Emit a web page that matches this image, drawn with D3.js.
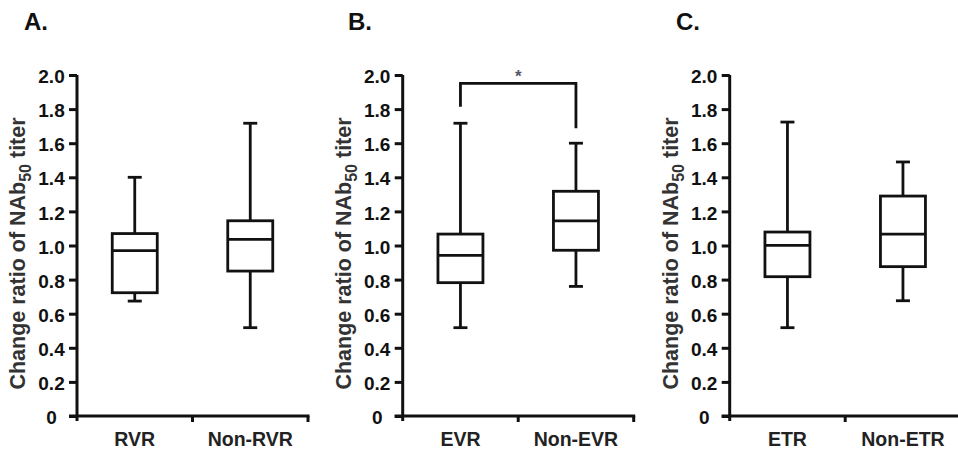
<!DOCTYPE html>
<html>
<head>
<meta charset="utf-8">
<script src="https://cdn.jsdelivr.net/npm/d3@7"></script>
<style>
  html, body { margin: 0; padding: 0; background: #fff; }
  svg { display: block; font-family: "Liberation Sans", Arial, sans-serif; }
</style>
</head>
<body>
<svg id="chart" width="958" height="452"></svg>
<script>
// ---- data ----
const panelLabels = ["A.", "B.", "C."];
const categoriesA = ["RVR", "Non-RVR"];
const categoriesB = ["EVR", "Non-EVR"];
const categoriesC = ["ETR", "Non-ETR"];
// [min, q1, median, q3, max]
const statsA = [[0.674, 0.723, 0.970, 1.070, 1.400], [0.518, 0.850, 1.036, 1.145, 1.717]];
const statsB = [[0.518, 0.782, 0.942, 1.067, 1.717], [0.760, 0.972, 1.145, 1.318, 1.600]];
const statsC = [[0.518, 0.817, 1.001, 1.079, 1.724], [0.676, 0.876, 1.067, 1.290, 1.490]];
const yTicks = [0, 0.2, 0.4, 0.6, 0.8, 1.0, 1.2, 1.4, 1.6, 1.8, 2.0];
const yLabel = "Change ratio of NAb";
const yLabelSub = "50";
const yLabelEnd = " titer";
// significance bracket in panel B: [top, left leg end, right leg end], label
const bracketB = [1.951, 1.814, 1.687];
const bracketLabel = "*";

// ---- layout ----
const svg = d3.select("#chart");
const axisXs = [77, 402.7, 729.7];
const bandW = 115.5;
const yTop = 75, yBottom = 416;
const y = d3.scaleLinear().domain([0, 2]).range([yBottom, yTop]);
const ink = "#111";
const lw = 2.8;

const panels = [
  { cats: categoriesA, stats: statsA },
  { cats: categoriesB, stats: statsB, bracket: bracketB },
  { cats: categoriesC, stats: statsC }
];

panels.forEach((p, i) => {
  const ax = axisXs[i];
  const g = svg.append("g");
  const x = d3.scaleBand().domain(p.cats).range([ax, ax + 2 * bandW]).padding(0);

  // panel label
  g.append("text").attr("x", [24, 348, 676][i]).attr("y", 30)
    .attr("font-size", 24).attr("font-weight", "bold").attr("fill", ink)
    .text(panelLabels[i]);

  // y axis
  const yAxis = d3.axisLeft(y).tickValues(yTicks).tickSize(8).tickPadding(0)
    .tickFormat(d => d === 0 ? "0" : d3.format(".1f")(d));
  const ga = g.append("g").attr("transform", `translate(${ax},0)`).call(yAxis);
  ga.select(".domain").attr("stroke", ink).attr("stroke-width", 3)
    .attr("d", `M0,${yTop}V${yBottom + 5}`);
  ga.selectAll(".tick line").attr("stroke", ink).attr("stroke-width", 3);
  ga.selectAll(".tick text").attr("x", -25.5).attr("text-anchor", "middle")
    .attr("dy", "0.4em").attr("font-size", 19).attr("font-weight", "bold").attr("fill", ink);

  // x axis
  g.append("line").attr("x1", ax - 8).attr("x2", ax + 2 * bandW + 1.5)
    .attr("y1", yBottom).attr("y2", yBottom)
    .attr("stroke", ink).attr("stroke-width", 3);
  [ax + bandW, ax + 2 * bandW].forEach(tx => {
    g.append("line").attr("x1", tx).attr("x2", tx).attr("y1", yBottom).attr("y2", yBottom + 6)
      .attr("stroke", ink).attr("stroke-width", 3);
  });
  g.selectAll(".xlab").data(p.cats).enter().append("text")
    .attr("x", d => x(d) + x.bandwidth() / 2).attr("y", 446)
    .attr("text-anchor", "middle").attr("font-size", 19.5).attr("font-weight", "bold").attr("fill", "#222")
    .text(d => d);

  // y label
  const yl = g.append("text")
    .attr("transform", `translate(${ax - 52},${(yTop + yBottom) / 2 + 8}) rotate(-90)`)
    .attr("text-anchor", "middle").attr("font-size", 21.5).attr("font-weight", "bold").attr("fill", "#333");
  yl.append("tspan").text(yLabel);
  yl.append("tspan").attr("font-size", 16).attr("dy", 6).text(yLabelSub);
  yl.append("tspan").attr("dy", -6).text(yLabelEnd);

  // boxes
  const boxW = 45, capW = 14;
  p.cats.forEach((c, j) => {
    const s = p.stats[j];
    const cx = x(c) + x.bandwidth() / 2;
    const bg = g.append("g").attr("stroke", ink).attr("stroke-width", lw).attr("fill", "none");
    bg.append("line").attr("x1", cx).attr("x2", cx).attr("y1", y(s[4])).attr("y2", y(s[3]));
    bg.append("line").attr("x1", cx).attr("x2", cx).attr("y1", y(s[1])).attr("y2", y(s[0]));
    bg.append("line").attr("x1", cx - capW / 2).attr("x2", cx + capW / 2).attr("y1", y(s[4])).attr("y2", y(s[4]));
    bg.append("line").attr("x1", cx - capW / 2).attr("x2", cx + capW / 2).attr("y1", y(s[0])).attr("y2", y(s[0]));
    bg.append("rect").attr("x", cx - boxW / 2).attr("width", boxW)
      .attr("y", y(s[3])).attr("height", y(s[1]) - y(s[3])).attr("fill", "#fff");
    bg.append("line").attr("x1", cx - boxW / 2).attr("x2", cx + boxW / 2).attr("y1", y(s[2])).attr("y2", y(s[2]));
  });

  // bracket
  if (p.bracket) {
    const b = p.bracket;
    const x1 = x(p.cats[0]) + x.bandwidth() / 2;
    const x2 = x(p.cats[1]) + x.bandwidth() / 2;
    g.append("path")
      .attr("d", `M${x1},${y(b[1])}V${y(b[0])}H${x2}V${y(b[2])}`)
      .attr("fill", "none").attr("stroke", ink).attr("stroke-width", lw);
    g.append("text").attr("x", (x1 + x2) / 2).attr("y", y(b[0]) - 1)
      .attr("text-anchor", "middle").attr("font-size", 17).attr("font-weight", "bold").attr("fill", "#556")
      .text(bracketLabel);
  }
});
</script>
</body>
</html>
